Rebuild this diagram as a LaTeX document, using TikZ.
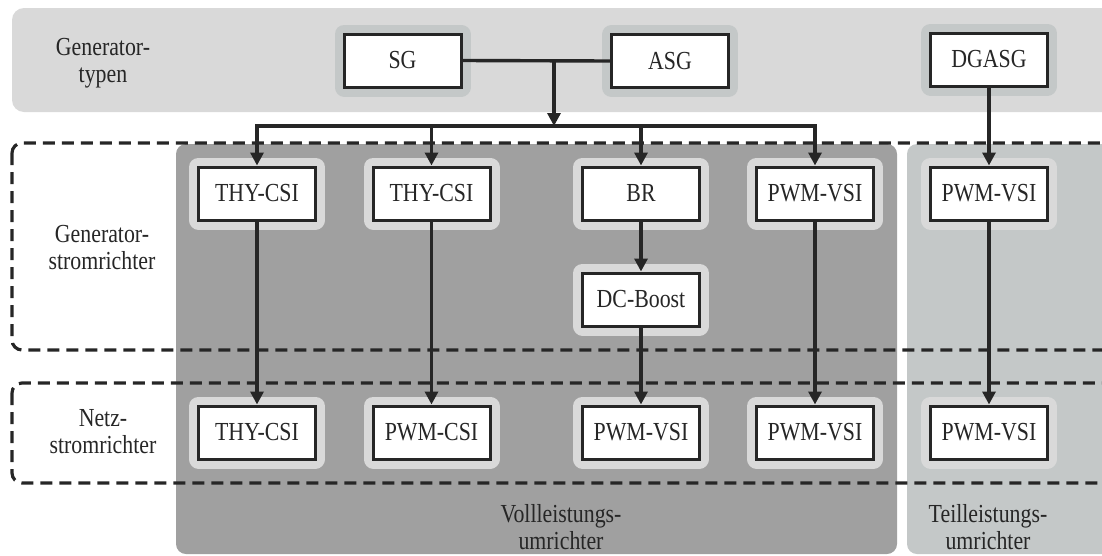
\documentclass[tikz,border=0pt]{standalone}
\usepackage{fontspec}
\setmainfont{Liberation Serif}[FakeStretch=0.84]
\usetikzlibrary{arrows.meta}
\definecolor{bandc}{HTML}{D9D9D9}
\definecolor{haloa}{HTML}{C4C8C8}
\definecolor{halob}{HTML}{D9D9D9}
\definecolor{darkp}{HTML}{A0A0A0}
\definecolor{rightp}{HTML}{C4C8C8}
\definecolor{ink}{HTML}{262626}
\tikzset{
  box/.style={draw=ink, fill=white, line width=3pt, minimum width=117pt, minimum height=53pt, inner sep=0pt, text=ink,
    font=\fontsize{26}{27}\selectfont},
  haloA/.style={preaction={draw=haloa, line width=19pt, line join=round}},
  haloB/.style={preaction={draw=halob, line width=19pt, line join=round}},
  conn/.style={draw=ink, line width=3.4pt},
  arr/.style={conn, -{Triangle[length=13pt,width=13pt]}},
  dashbox/.style={draw=ink, line width=3.2pt, dash pattern=on 12pt off 7pt, rounded corners=10pt},
  lbl/.style={align=center, text=ink, font=\fontsize{26}{27}\selectfont, inner sep=0pt}
}
\begin{document}
\begin{tikzpicture}[x=1pt,y=-1pt]
\useasboundingbox (0,0) rectangle (1102,555);
\clip (0,0) rectangle (1102,555);
% backgrounds
\fill[bandc, rounded corners=12pt] (12,8) rectangle (1130,112);
\fill[darkp, rounded corners=10pt] (176,144) rectangle (897,554);
\fill[rightp, rounded corners=10pt] (907,144) rectangle (1130,554);
% dashed groups
\draw[dashbox] (12,143) rectangle (1130,350);
\draw[dashbox] (12,383) rectangle (1130,483);
% labels
\node[lbl] (lgt) at (103,63) {Generator-\\typen};
\node[lbl] (lgs) at (102,248) {Generator-\\stromrichter};
\node[lbl] (lns) at (103,432) {Netz-\\stromrichter};
\node[lbl] (lvu) at (561,527) {Vollleistungs-\\umrichter};
\node[lbl] (ltu) at (988,527) {Teilleistungs-\\umrichter};
% generator nodes
\node[box, haloA] (sg) at (402.5,60.5) {SG};
\node[box, haloA] (asg) at (670,61) {ASG};
\node[box, haloA] (dgasg) at (989,59.5) {DGASG};
% row 1
\node[box, haloB] (g1) at (257,193.5) {THY-CSI};
\node[box, haloB] (g2) at (431.5,193.5) {THY-CSI};
\node[box, haloB] (g3) at (641,193.5) {BR};
\node[box, haloB] (g4) at (815,193.5) {PWM-VSI};
\node[box, haloB] (g5) at (989,193.5) {PWM-VSI};
\node[box, haloB] (dcb) at (641,299.5) {DC-Boost};
% row 2
\node[box, haloB] (n1) at (257,432.5) {THY-CSI};
\node[box, haloB] (n2) at (431.5,432.5) {PWM-CSI};
\node[box, haloB] (n3) at (641,432.5) {PWM-VSI};
\node[box, haloB] (n4) at (815,432.5) {PWM-VSI};
\node[box, haloB] (n5) at (989,432.5) {PWM-VSI};
% connectors
\coordinate (j) at (554,60.5);
\coordinate (bus) at (554,126);
\draw[conn] (sg.east) -- (asg.west);
\draw[arr] (j) -- (bus);
\draw[conn, line cap=rect] (g1 |- bus) -- (g4 |- bus);
\draw[arr] (g1 |- bus) -- (g1.north);
\draw[arr] (g2 |- bus) -- (g2.north);
\draw[arr] (g3 |- bus) -- (g3.north);
\draw[arr] (g4 |- bus) -- (g4.north);
\draw[arr] (dgasg.south) -- (g5.north);
\draw[arr] (g1.south) -- (n1.north);
\draw[arr] (g2.south) -- (n2.north);
\draw[arr] (g3.south) -- (dcb.north);
\draw[arr] (dcb.south) -- (n3.north);
\draw[arr] (g4.south) -- (n4.north);
\draw[arr] (g5.south) -- (n5.north);
\end{tikzpicture}
\end{document}
